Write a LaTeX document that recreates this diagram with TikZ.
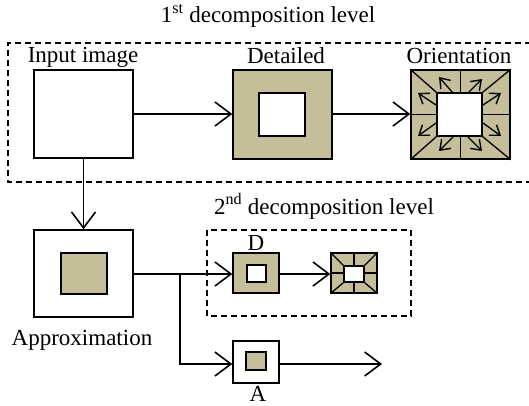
\documentclass[tikz,border=0pt]{standalone}
\usepackage{fontspec}
\setmainfont{Liberation Serif}
\usetikzlibrary{arrows.meta}
\definecolor{khaki}{RGB}{196,190,155}
\tikzset{
  blk/.style={draw, line width=1.5pt, inner sep=0pt, minimum width=#1},
  blk/.default=99pt,
  tan/.style={fill=khaki},
  hole/.style={draw, fill=white, line width=1.5pt, inner sep=0pt},
  frame/.style={draw, line width=1.4pt, dash pattern=on 6pt off 4pt},
  flow/.style={line width=1.4pt, -{Straight Barb[length=16pt, width=24pt, line width=1.6pt]}},
  tick/.style={line width=1.3pt, -{Straight Barb[length=9pt, width=13pt, line width=1.4pt]}},
  seg/.style={line width=1.3pt},
  lbl/.style={font=\fontsize{23}{27}\selectfont, inner sep=0pt, anchor=base}
}
\begin{document}
\begin{tikzpicture}[x=1pt, y=-1pt]
\useasboundingbox (0,0) rectangle (529,406);

% dashed frames of the two decomposition levels
\draw[frame] (531,43) -- (8,43) -- (8,182) -- (531,182);
\draw[frame] (207,230) rectangle (411,316);
\node[lbl] (t1) at (268,23) {1\textsuperscript{st} decomposition level};
\node[lbl] (t2) at (324,214) {2\textsuperscript{nd} decomposition level};

% first level
\node[blk, minimum height=88pt] (in) at (83.5,114) {};
\node[lbl] (inl) at (83,63) {Input image};

\node[blk, tan, minimum height=89pt] (det) at (282.5,114.5) {};
\node[hole, minimum width=46pt, minimum height=43pt] (deti) at (282,114.5) {};
\node[lbl] (detl) at (286,64) {Detailed};

\node[blk, tan, minimum height=89pt] (ori) at (460.5,114.5) {};
\node[hole, minimum width=45pt, minimum height=43pt] (orii) at (459.5,114.5) {};
\node[lbl] (oril) at (459,64) {Orientation};
% orientation sectors
\draw[seg] (ori.north west) -- (orii.north west);
\draw[seg] (ori.north east) -- (orii.north east);
\draw[seg] (ori.south west) -- (orii.south west);
\draw[seg] (ori.south east) -- (orii.south east);
\draw[seg] (orii.north -| ori.north) -- (ori.north);
\draw[seg] (orii.south -| ori.south) -- (ori.south);
\draw[seg] (ori.west) -- (orii.west |- ori.west);
\draw[seg] (ori.east) -- (orii.east |- ori.east);
% orientation arrows
\draw[tick] (453,93) -- (439,77);
\draw[tick] (468,93) -- (482,79);
\draw[tick] (436,105) -- (418,93);
\draw[tick] (436,123) -- (418,136);
\draw[tick] (483,105) -- (501,93);
\draw[tick] (483,123) -- (501,136);
\draw[tick] (453,137) -- (439,151);
\draw[tick] (468,137) -- (482,151);

% second level
\node[blk, minimum height=87pt] (app) at (83.5,273.5) {};
\node[hole, tan, minimum width=46pt, minimum height=41pt] (appi) at (84,273.5) {};
\node[lbl] (appl) at (82,345) {Approximation};

\node[blk=46pt, tan, minimum height=40pt] (d) at (256,273) {};
\node[hole, minimum width=19pt, minimum height=17pt] (di) at (256.5,273.5) {};
\node[lbl] (dl) at (256,250) {D};

\node[blk=46pt, tan, minimum height=40pt] (so) at (354,273) {};
\node[hole, minimum width=20pt, minimum height=16pt] (soi) at (354,274) {};
\draw[seg] (so.north west) -- (soi.north west);
\draw[seg] (so.north east) -- (soi.north east);
\draw[seg] (so.south west) -- (soi.south west);
\draw[seg] (so.south east) -- (soi.south east);
\draw[seg] (soi.north -| so.north) -- (so.north);
\draw[seg] (soi.south -| so.south) -- (so.south);
\draw[seg] (so.west) -- (soi.west |- so.west);
\draw[seg] (so.east) -- (soi.east |- so.east);

\node[blk=46pt, minimum height=42pt] (a) at (256,362) {};
\node[hole, tan, minimum width=20pt, minimum height=18pt] (ai) at (256,361) {};
\node[lbl] (al) at (258,401) {A};

% connectors
\coordinate (split) at (180,274);
\coordinate (aout) at (382,364);
\draw[flow] (in.east |- 0,114) -- (det.west |- 0,114);
\draw[flow] (det.east |- 0,114) -- (ori.west |- 0,114);
\draw[flow] (in.south) -- (app.north);
\draw[flow] (app.east |- split) -- (d.west |- split);
\draw[flow] (split) -- (split |- 0,364) -- (a.west |- 0,364);
\draw[flow] (d.east |- 0,274) -- (so.west |- 0,274);
\draw[flow] (a.east |- aout) -- (aout);
\end{tikzpicture}
\end{document}
